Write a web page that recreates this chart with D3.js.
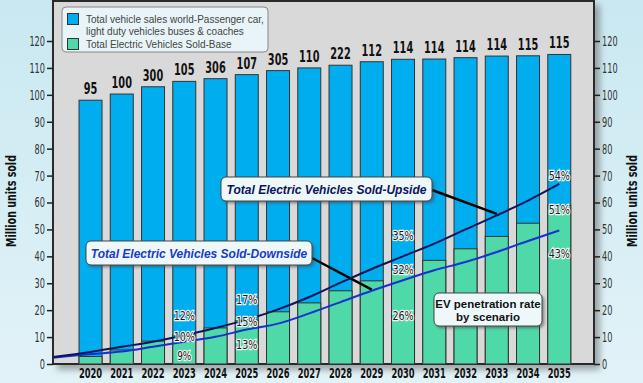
<!DOCTYPE html>
<html>
<head>
<meta charset="utf-8">
<script src="https://cdn.jsdelivr.net/npm/d3@7"></script>
<style>
  html, body { margin: 0; padding: 0; }
  body { width: 643px; height: 383px; overflow: hidden; }
  svg { display: block; }
</style>
</head>
<body>
<svg id="chart" width="643" height="383"></svg>
<script>
// Data
const years = ["2020","2021","2022","2023","2024","2025","2026","2027","2028","2029","2030","2031","2032","2033","2034","2035"];
const totalSales = [98, 100.3, 103, 105, 106, 107.5, 109, 110, 111, 112.3, 113.2, 113.3, 113.8, 114.4, 114.5, 115];
const totalLabels = ["95","100","300","105","306","107","305","110","222","112","114","114","114","114","115","115"];
const evBase = [2.8, 5.2, 8.5, 10.8, 13.4, 16.3, 19.4, 22.7, 27.2, 30.9, 34.6, 38.5, 42.8, 47.4, 52.3, 59];
const evUpside = [4.5, 6.4, 8.3, 10.7, 13.4, 16.5, 20.3, 24.9, 30.2, 35.3, 40, 44.7, 50, 55.2, 60.7, 66.9];
const evDownside = [3.7, 4.6, 6.4, 8.3, 10.1, 12.8, 15.0, 18.8, 23.0, 27.2, 31.1, 34.8, 37.9, 41.6, 45.7, 49.6];
const lineStart = { upside: 2.6, downside: 2.3 };   // value where both lines meet the left axis
const yTicks = [0, 10, 20, 30, 40, 50, 60, 70, 80, 90, 100, 110, 120];

// penetration labels: year, text, value-height where it sits
const pctLabels = [
  { year: "2023", text: "12%", v: 18.1 }, { year: "2023", text: "10%", v: 10.1 }, { year: "2023", text: "9%", v: 3.3 },
  { year: "2025", text: "17%", v: 23.9 }, { year: "2025", text: "15%", v: 15.7 }, { year: "2025", text: "13%", v: 7.4 },
  { year: "2030", text: "35%", v: 47.8 }, { year: "2030", text: "32%", v: 35.1 }, { year: "2030", text: "26%", v: 18.1 },
  { year: "2035", text: "54%", v: 70.2 }, { year: "2035", text: "51%", v: 57.3 }, { year: "2035", text: "43%", v: 41 }
];

const W = 643, H = 383;
const plot = { left: 53, right: 594, top: 1, bottom: 364 };
const cond = "'DejaVu Sans', 'Liberation Sans', sans-serif";
const arial = "'Liberation Sans', Arial, sans-serif";

// narrow a text horizontally around its anchor (the original uses a condensed face)
function squeeze(sel, perChar) {
  sel.each(function() {
    const natural = this.getComputedTextLength();
    const target = this.textContent.length * perChar;
    const s = Math.min(1, target / natural);
    const ax = +(this.getAttribute("x") || 0);
    this.setAttribute("transform", `translate(${ax},0) scale(${s},1) translate(${-ax},0)`);
  });
}

const svg = d3.select("#chart");
const defs = svg.append("defs");

const bg = defs.append("linearGradient").attr("id", "bg").attr("x1", 0).attr("y1", 0).attr("x2", 0).attr("y2", 1);
bg.append("stop").attr("offset", "0%").attr("stop-color", "#c9e8f1");
bg.append("stop").attr("offset", "100%").attr("stop-color", "#e2f3f8");

const shadow = defs.append("filter").attr("id", "shadow").attr("x", "-5%").attr("y", "-5%").attr("width", "115%").attr("height", "115%");
shadow.append("feDropShadow").attr("dx", 5).attr("dy", 5).attr("stdDeviation", 3).attr("flood-color", "#666").attr("flood-opacity", 0.55);

const boxShadow = defs.append("filter").attr("id", "boxshadow").attr("x", "-10%").attr("y", "-20%").attr("width", "125%").attr("height", "160%");
boxShadow.append("feDropShadow").attr("dx", 2).attr("dy", 2).attr("stdDeviation", 1.2).attr("flood-color", "#444").attr("flood-opacity", 0.5);

svg.append("rect").attr("width", W).attr("height", H).attr("fill", "url(#bg)");

// plot frame
svg.append("rect")
  .attr("x", plot.left).attr("y", plot.top)
  .attr("width", plot.right - plot.left).attr("height", plot.bottom - plot.top)
  .attr("fill", "#d9d9d9")
  .attr("stroke", "#2b2b2b").attr("stroke-width", 2)
  .attr("filter", "url(#shadow)");

const x = d3.scaleBand().domain(years).range([63.4, 586.4]).paddingInner(0.264).paddingOuter(0.5);
const y = d3.scaleLinear().domain([0, 120]).range([plot.bottom, 41]);
const cx = d => x(d) + x.bandwidth() / 2;

// total vehicle bars
svg.append("g").selectAll("rect")
  .data(years)
  .join("rect")
  .attr("x", d => x(d))
  .attr("y", (d, i) => y(totalSales[i]))
  .attr("width", x.bandwidth())
  .attr("height", (d, i) => y(0) - y(totalSales[i]))
  .attr("fill", "#00adef")
  .attr("stroke", "#333").attr("stroke-width", 1);

// EV base bars
svg.append("g").selectAll("rect")
  .data(years)
  .join("rect")
  .attr("x", d => x(d))
  .attr("y", (d, i) => y(evBase[i]))
  .attr("width", x.bandwidth())
  .attr("height", (d, i) => y(0) - y(evBase[i]))
  .attr("fill", "#4fd8a8")
  .attr("stroke", "#333").attr("stroke-width", 1);

// value labels on top
svg.append("g").selectAll("text")
  .data(years)
  .join("text")
  .attr("x", d => cx(d))
  .attr("y", (d, i) => y(totalSales[i]) - 6)
  .attr("text-anchor", "middle")
  .attr("font-family", cond).attr("font-weight", "bold").attr("font-size", "15px")
  .attr("fill", "#111")
  .text((d, i) => totalLabels[i])
  .call(squeeze, 6.8);

// lines
const lineGen = d3.line().x(d => d[0]).y(d => y(d[1])).curve(d3.curveMonotoneX);
const upPts = [[plot.left, lineStart.upside]].concat(years.map((d, i) => [cx(d), evUpside[i]]));
const downPts = [[plot.left, lineStart.downside]].concat(years.map((d, i) => [cx(d), evDownside[i]]));

// leader lines (drawn under the series lines)
const leaderUp = { from: [432, 190], year: "2033", v: evUpside[13] + 0.6 };
const leaderDown = { from: [312, 258], year: "2029", v: evDownside[9] + 0.4 };
[leaderUp, leaderDown].forEach(l => {
  svg.append("line")
    .attr("x1", l.from[0]).attr("y1", l.from[1])
    .attr("x2", cx(l.year)).attr("y2", y(l.v))
    .attr("stroke", "#000").attr("stroke-width", 2.5);
});

svg.append("path").datum(downPts).attr("d", lineGen)
  .attr("fill", "none").attr("stroke", "#1431d2").attr("stroke-width", 2);
svg.append("path").datum(upPts).attr("d", lineGen)
  .attr("fill", "none").attr("stroke", "#0b1659").attr("stroke-width", 2);

// penetration labels
svg.append("g").selectAll("text")
  .data(pctLabels)
  .join("text")
  .attr("x", d => cx(d.year))
  .attr("y", d => y(d.v) + 4.5)
  .attr("text-anchor", "middle")
  .attr("font-family", cond).attr("font-size", "12.5px")
  .attr("fill", "#1a1a1a")
  .attr("stroke", "#f4f4f4").attr("stroke-width", 2.5).attr("paint-order", "stroke")
  .text(d => d.text)
  .call(squeeze, 7.1);

// callout boxes
function callout(bx, by, bw, bh, lines, color, italic) {
  const g = svg.append("g");
  g.append("rect").attr("x", bx).attr("y", by).attr("width", bw).attr("height", bh)
    .attr("rx", 5).attr("fill", "#eef8fb").attr("stroke", "#444").attr("stroke-width", 1)
    .attr("filter", "url(#boxshadow)");
  const lh = italic ? 0 : 13;
  lines.forEach((t, i) => {
    g.append("text")
      .attr("x", bx + bw / 2)
      .attr("y", by + bh / 2 + 4.5 - (lines.length - 1) * lh / 2 + i * lh)
      .attr("text-anchor", "middle")
      .attr("font-family", arial).attr("font-weight", "bold")
      .attr("font-style", italic ? "italic" : "normal")
      .attr("font-size", italic ? "12px" : "11.5px")
      .attr("fill", color)
      .text(t);
  });
}
callout(221, 177, 211, 24, ["Total Electric Vehicles Sold-Upside"], "#0b1659", true);
callout(86, 241, 226, 24, ["Total Electric Vehicles Sold-Downside"], "#1a3cc4", true);
callout(434, 293, 108, 33, ["EV penetration rate", "by scenario"], "#111", false);

// axes
const yLeft = d3.axisLeft(y).tickValues(yTicks).tickSize(6).tickSizeOuter(0).tickPadding(2);
const yRight = d3.axisRight(y).tickValues(yTicks).tickSize(6).tickSizeOuter(0).tickPadding(2);
[[yLeft, plot.left], [yRight, plot.right]].forEach(([ax, px]) => {
  const g = svg.append("g").attr("transform", `translate(${px},0)`).call(ax);
  g.select(".domain").remove();
  g.selectAll("line").attr("stroke", "#222").attr("stroke-width", 1.5);
  g.selectAll("text").attr("font-family", cond).attr("font-size", "14px").attr("fill", "#333")
    .call(squeeze, 5.2);
});

const xAxis = svg.append("g").attr("transform", `translate(0,${plot.bottom})`)
  .call(d3.axisBottom(x).tickSize(0).tickPadding(4));
xAxis.select(".domain").remove();
xAxis.selectAll("text").attr("font-family", cond).attr("font-weight", "bold").attr("font-size", "14px").attr("fill", "#111")
  .call(squeeze, 5.8);

// axis titles (rotation on the group, squeeze on the text)
[11, 632].forEach(tx => {
  svg.append("g")
    .attr("transform", `translate(${tx + 4.5},201) rotate(-90)`)
    .append("text")
    .attr("x", 0).attr("y", 0)
    .attr("text-anchor", "middle")
    .attr("font-family", cond).attr("font-weight", "bold").attr("font-size", "14px")
    .attr("fill", "#111")
    .text("Million units sold")
    .call(squeeze, 92 / 18);
});

// legend
const legend = svg.append("g");
legend.append("rect").attr("x", 62).attr("y", 7).attr("width", 206).attr("height", 45)
  .attr("rx", 4).attr("fill", "#e9f6f9").attr("fill-opacity", 0.95)
  .attr("stroke", "#888").attr("stroke-width", 1);
const legendItems = [
  { color: "#00adef", lines: ["Total vehicle sales world-Passenger car,", "light duty vehicles buses & coaches"], y: 13 },
  { color: "#4fd8a8", lines: ["Total Electric Vehicles Sold-Base"], y: 38 }
];
legendItems.forEach(it => {
  legend.append("rect").attr("x", 67.5).attr("y", it.y + 0.5).attr("width", 11).attr("height", 11)
    .attr("fill", it.color).attr("stroke", "#333").attr("stroke-width", 1);
  it.lines.forEach((t, i) => {
    legend.append("text")
      .attr("x", 86).attr("y", it.y + 9.5 + i * 12.7)
      .attr("font-family", arial).attr("font-size", "10px").attr("fill", "#444")
      .text(t);
  });
});
</script>
</body>
</html>
